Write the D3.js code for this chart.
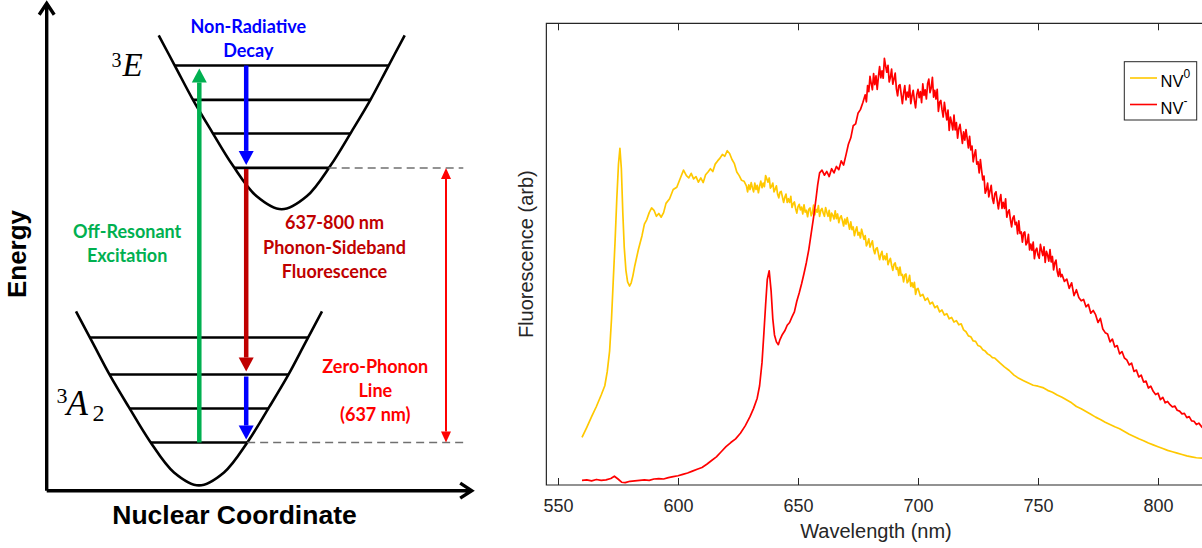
<!DOCTYPE html>
<html><head><meta charset="utf-8">
<script src="https://cdn.jsdelivr.net/npm/d3@7"></script>
<style>body{margin:0;background:#fff;} svg{display:block;}</style>
</head><body><svg id="chart" width="1202" height="548"></svg>
<script>
// ================= DATA: emission spectra ([wavelength nm, fluorescence arb]) =================
const wavelengthTicks = [550, 600, 650, 700, 750, 800];
const nv0Spectrum = [
[560,10.3],[562,12.5],[564,14.8],[566,17],[568,19.5],[569.5,21.5],[570.5,24.5],[571.5,29],[572.3,36],[573,44],[573.8,53],[574.5,62],[575.2,69.5],[575.8,72.9],[576.4,68.5],[577,59],[577.6,51.5],[578.3,46.5],[579,44],[579.8,43.1],[580.5,43.8],[581.2,45.3],[582,47.5],[583.5,51],[585,54],[586,56.5],[587,57.5],[588,59],[589,60],[590,59.5],[591,58.2],[592,58.8],[593,58],[594,59],[595,61],[596.5,62],[598,64],[599.5,64.5],[601,66.5],[602.3,68.2],[603.5,67],[604.5,66.5],[605.5,67.5],[606.5,66.3],[607.5,66.8],[608.5,65.6],[609.5,66.5],[610.5,65.5],[611.5,67.2],[612.5,67.8],[613.5,68.5],[614.5,67.9],[615.5,69.5],[616.5,70.2],[617.5,70.8],[618.5,71.6],[619.5,71.2],[620.5,72.4],[621.5,71.8],[622.5,70.5],[623.5,69.6],[624.5,67.8],[625.5,67],[626.5,66],[627.5,65.8],
[628.5,64.8],[629,63.5],[629.5,65.0],[630,64.0],[630.5,65.5],[631,64.4],[631.5,63.5],[632,65.4],[632.5,64.0],[633,64.9],[633.5,63.3],[634,64.7],[634.5,65.8],[635,64.4],[635.5,65.4],[636,64.6],[636.5,67.0],[637,66.3],[637.5,65.6],[638,66.5],[638.5,64.3],[639,64.7],[639.5,65.4],[640,63.5],[640.5,64.1],[641,64.8],[641.5,63.0],[642,62.2],[642.5,63.4],[643,63.6],[643.5,62.4],[644,61.2],[644.5,62.3],[645,63.0],[645.5,61.2],[646,62.0],[646.5,61.2],[647,62.5],[647.5,60.1],[648,60.9],
[648.5,61.3],[649,59.9],[649.5,58.9],[650,60.3],[650.5,60.8],[651,59.6],[651.5,60.2],[652,58.7],[652.5,60.7],[653,59.1],[653.5,59.5],[654,58.1],[654.5,59.7],[655,60.0],[655.5,58.3],[656,59.0],[656.5,60.6],[657,58.5],[657.5,59.7],[658,59.1],[658.5,60.5],[659,58.2],[659.5,59.5],[660,59.9],[660.5,58.9],[661,58.2],[661.5,60.1],[662,59.1],[662.5,58.2],[663,59.5],[663.5,57.2],[664,58.9],[664.5,58.4],[665,57.6],[665.5,59.4],[666,57.7],[666.5,58.7],[667,56.8],[667.5,57.9],[668,58.3],
[668.5,57.3],[669,56.1],[669.5,57.6],[670,56.5],[670.5,57.9],[671,56.6],[671.5,55.4],[672,57.0],[672.5,55.3],[673,55.9],[673.5,54.0],[674,55.1],[674.5,55.9],[675,54.1],[675.5,54.7],[676,53.5],[676.5,55.4],[677,54.3],[677.5,53.2],[678,54.0],[678.5,51.8],[679,52.4],[679.5,53.3],[680,51.5],[680.5,52.2],[681,52.9],[681.5,51.0],[682,50.1],[682.5,51.2],[683,51.4],[683.5,50.1],[684,48.8],[684.5,49.9],[685,50.6],[685.5,48.8],[686,49.6],[686.5,48.8],[687,50.1],[687.5,47.7],[688,48.5],
[688.5,49.1],[689,47.6],[689.5,46.5],[690,47.8],[690.5,48.1],[691,46.7],[691.5,47.1],[692,45.4],[692.5,47.2],[693,45.4],[693.5,45.6],[694,44.0],[694.5,45.5],[695,45.7],[695.5,43.8],[696,44.2],[696.5,45.4],[697,43.0],[697.5,43.8],[698,42.8],[698.5,43.9],[699,41.3],[699.5,42.4],[700,42.6],
[701,40.9],[702,41.3],[703,40.0],[704,40.5],[705,39.2],[706,39.6],[707,38.4],[708,38.8],[709,37.5],[710,37.9],[711,36.8],[712,37.1],[713,36.0],[714,36.3],[715,35.3],[716,35.6],[717,34.7],[718,34.9],[719,33.6],[720,33.2],[721,32.3],[722,32.1],[723,31.2],[724,31.1],[725,30.2],[726,30.0],[727,29.3],[728,29.0],[729,28.4],[730,28.1],[731,27.6],[732,27.5],
[734,26.5],[736,25.6],[738,24.8],[740,23.8],[742,23.1],[744,22.6],[746,22.1],[748,21.6],[750,21.4],[752,21.1],[754,20.5],[756,20.1],[758,19.5],[760,19],[762,18.4],[764,17.8],[766,17],[768,16.5],[770,15.9],[772,15.3],[774,14.7],[776,14.2],[778,13.6],[780,13.1],[782,12.6],[784,12.2],[786,11.6],[788,11],[790,10.5],[792,10],[794,9.6],[796,9.1],[798,8.7],[800,8.3],[802,7.9],[804,7.5],[806,7.2],[808,6.9],[810,6.6],[812,6.3],[814,6.1],[816,5.9],[818.5,5.8]
];
const nvmSpectrum = [
[560,1.0],[562,1.1],[564,0.9],[566,1.2],[568,1.0],[570,1.1],[572,1.4],[573.5,1.9],[575,1.3],[576.5,0.6],[578,0.5],[580,0.8],[582,0.9],[584,1.0],[586,1.1],[588,1.0],[590,1.3],[592,1.4],[594,1.3],[596,1.6],[598,1.8],[600,2.0],[602,2.3],[604,2.6],[606,3.0],[608,3.4],[610,3.8],[612,4.5],[614,5.3],[616,6.1],[618,7.2],[620,8.3],[622,9.2],[624,10.0],[626,11.2],[628,12.8],[630,14.8],[631.5,16.6],[633,18.8],[634,21.5],[635,26.5],[635.8,33],[636.5,39],[637.2,44.5],[638,46.4],[638.8,42],[639.5,36],[640.2,32.5],[641,31],[641.8,30.4],[642.5,31.5],[643.5,32.6],[644.5,33.4],[645.5,34.6],[646.5,35.2],[647.5,36.4],[648.5,37.5],[649.5,39.8],[650.5,41.6],[651.5,43.6],[652.5,45.8],[653.5,48.2],[654.5,51],[655.5,54.5],[656.5,58],[657.5,62],[658.2,65],[659,67.6],[660,68.2],[661,67.1],[662,67.9],[663,66.8],[664,68.5],[665,67.6],[666,69],[667,68.3],[668,70.2],[669,69.3],[670,71.5],[671,73.8],[672,75.2],[673,77.8],[674,78.2],[675,80.5],[676,81.3],[677,82.8],
[678,84.5],[678.5,83.0],[679,86.5],[679.5,85.2],[680,88.5],[680.5,87.0],[681,85.6],[681.5,89.1],[682,86.7],[682.5,88.6],[683,85.7],[683.5,88.4],[684,90.6],[684.5,88.2],[685,89.7],[685.5,88.1],[686,92.4],[686.5,90.8],[687,89.4],[687.5,90.9],[688,87.3],[688.5,88.3],[689,90.1],[689.5,86.8],[690,88.0],[690.5,89.2],[691,85.8],[691.5,84.3],[692,86.5],[692.5,86.7],[693,84.6],[693.5,82.6],[694,84.9],[694.5,86.5],[695,83.4],[695.5,85.1],[696,84.0],[696.5,86.6],[697,82.6],[697.5,84.3],
[698,85.5],[698.5,83.3],[699,81.7],[699.5,84.6],[700,85.7],[700.5,83.9],[701,85.2],[701.5,82.8],[702,86.9],[702.5,84.4],[703,85.6],[703.5,83.6],[704,86.9],[704.5,87.9],[705,85.0],[705.5,86.0],[706,88.3],[706.5,84.0],[707,85.5],[707.5,83.6],[708,85.7],[708.5,80.9],[709,82.9],[709.5,83.3],[710,81.3],[710.5,79.7],[711,82.9],[711.5,80.9],[712,79.1],[712.5,81.2],[713,76.8],[713.5,79.7],[714,78.5],[714.5,76.9],[715,80.1],[715.5,76.9],[716,78.5],[716.5,75.1],[717,77.2],[717.5,78.1],
[718,76.1],[718.5,74.0],[719,76.5],[719.5,74.7],[720,77.0],[720.5,75.0],[721,73.0],[721.5,75.5],[722,72.6],[722.5,73.4],[723,70.0],[723.5,71.5],[724,72.6],[724.5,69.5],[725,70.0],[725.5,67.6],[726,70.5],[726.5,68.2],[727,66.1],[727.5,66.9],[728,63.2],[728.5,63.9],[729,65.4],[729.5,62.4],[730,63.7],[730.5,64.9],[731,62.1],[731.5,61.0],[732,63.1],[732.5,63.5],[733,61.6],[733.5,59.8],[734,61.7],[734.5,62.9],[735,59.9],[735.5,61.2],[736,59.9],[736.5,62.0],[737,58.0],[737.5,59.1],
[738,59.6],[738.5,57.5],[739,55.9],[739.5,57.8],[740,58.3],[740.5,56.4],[741,56.9],[741.5,54.4],[742,57.2],[742.5,54.5],[743,54.8],[743.5,52.6],[744,54.6],[744.5,54.8],[745,52.0],[745.5,52.5],[746,54.3],[746.5,50.9],[747,52.2],[747.5,50.8],[748,52.6],[748.5,49.0],[749,50.8],[749.5,51.3],[750,49.8],[750.5,49.1],[751,52.1],[751.5,50.8],[752,49.7],[752.5,51.6],[753,48.2],[753.5,50.6],[754,49.8],[754.5,48.5],[755,51.0],[755.5,48.3],[756,49.5],[756.5,46.6],[757,48.1],[757.5,48.7],[758,46.3],[758.5,45.2],[759,46.8],[759.5,45.1],[760,45.6],
[761,44.1],[762,44.6],[763,42.6],[764,43.8],[765,41.0],[766,42.3],[767,40.6],[768,39.9],[769,40.2],[770,38.6],[771,39.1],[772,37.2],[773,37.8],[774,36.9],[775,35.2],[776,36.1],[777,33.8],[778,33.0],[779,32.7],[780,31.0],[781,31.6],[782,29.9],[783,30.2],[784,28.4],[785,28.9],[786,27.5],[787,27.1],[788,26.0],[789,26.4],[790,24.6],[791,24.9],[792,23.4],[793,23.8],[794,22.3],[795,22.5],[796,21.0],[797,21.4],[798,20.3],[799,19.6],[800,19.9],[801,18.5],[802,19.0],[803,17.8],[804,18.1],[805,17.4],[806,16.9],[807,17.1],[808,16.2],[809,16.0],[810,15.4],[811,15.5],[812,14.6],[813,14.8],[814,13.9],[815,13.8],[816,13.1],[817,13.4],[818.5,12.4]
];
const seriesNames = ["NV", "NV"];
const seriesSup = ["0", "-"];
const seriesColors = ["#FFC800", "#FF0000"];

// ================= DATA: energy-level diagram =================
const wellOffset = [-123,-106,-89,-70,-49,-25,0,25,49,70,89,106,123];
const wellRise   = [174,142,110,78,44,13,0,13,44,78,110,142,174];
const wellCenter = [235, 152.3];   // 3E, 3A2 minima (nuclear coordinate)
const wellBottom = [281.4, 5.3];   // 3E, 3A2 minima (energy)
const levelsE  = [425.2, 390.8, 357.2, 322.8];
const levelsA2 = [153.2, 116.2, 82.2, 48.2];

const svg = d3.select("#chart");
svg.append("rect").attr("width",1202).attr("height",548).attr("fill","#fff");

// ================= LEFT: diagram =================
const xD = d3.scaleLinear().domain([0, 425]).range([46.7, 471.7]);
const yD = d3.scaleLinear().domain([0, 487.4]).range([490.7, 3.3]);
const gD = svg.append("g");

const rightRise = wellRise.slice(6), rightOff = wellOffset.slice(6);
const halfWidth = d3.scaleLinear().domain(rightRise).range(rightOff);

const wellLine = d3.line().curve(d3.curveCatmullRom.alpha(0.5));
[0,1].forEach(i => {
  const pts = wellOffset.map((o,k) => [xD(wellCenter[i]+o), yD(wellBottom[i]+wellRise[k])]);
  gD.append("path").attr("d", wellLine(pts)).attr("fill","none")
    .attr("stroke","#000").attr("stroke-width",2.6);
  const lv = i===0 ? levelsE : levelsA2;
  lv.forEach(e => {
    const hw = halfWidth(e - wellBottom[i]);
    gD.append("line").attr("x1", xD(wellCenter[i]-hw)).attr("x2", xD(wellCenter[i]+hw))
      .attr("y1", yD(e)).attr("y2", yD(e)).attr("stroke","#000").attr("stroke-width",2.6);
  });
});

const guideEnd = 416.6;
[[0, levelsE[3]], [1, levelsA2[3]]].forEach(([i,e]) => {
  const hw = halfWidth(e - wellBottom[i]);
  gD.append("line").attr("x1", xD(wellCenter[i]+hw)).attr("x2", xD(guideEnd))
    .attr("y1", yD(e)).attr("y2", yD(e)).attr("stroke","#707070")
    .attr("stroke-width",1.5).attr("stroke-dasharray","8,5");
});

gD.append("path").attr("d", `M${xD(0)},${yD(0)}V${yD(487.4)}M${xD(0)-7.5},${yD(487.4)+11.5}L${xD(0)},${yD(487.4)}L${xD(0)+7.5},${yD(487.4)+11.5}`)
  .attr("fill","none").attr("stroke","#000").attr("stroke-width",3.4);
gD.append("path").attr("d", `M${xD(0)},${yD(0)}H${xD(425)}M${xD(425)-11.5},${yD(0)-7.5}L${xD(425)},${yD(0)}L${xD(425)-11.5},${yD(0)+7.5}`)
  .attr("fill","none").attr("stroke","#000").attr("stroke-width",3.4);

function arrow(q, eFrom, eTo, color, w, hl, hwid, gapTip, gapStart, both) {
  const x = xD(q);
  const dir = eTo > eFrom ? -1 : 1;
  const y0 = yD(eFrom) + dir*gapStart, y1 = yD(eTo) - dir*gapTip;
  const yb = y1 - dir*hl;
  const ys = both ? y0 + dir*hl : y0;
  gD.append("line").attr("x1",x).attr("x2",x).attr("y1",ys).attr("y2",yb)
    .attr("stroke",color).attr("stroke-width",w);
  gD.append("path").attr("d",`M${x-hwid/2},${yb}L${x},${y1}L${x+hwid/2},${yb}Z`).attr("fill",color);
  if (both) gD.append("path").attr("d",`M${x-hwid/2},${ys}L${x},${y0}L${x+hwid/2},${ys}Z`).attr("fill",color);
}
arrow(152.6, levelsA2[3], levelsE[0], "#00B050", 4.5, 14, 15, 3, 0, false);
arrow(199.5, levelsE[0], levelsE[3], "#0000FF", 4.5, 14, 15, 3, 0, false);
arrow(199.5, levelsE[3], levelsA2[1], "#C00000", 4.5, 14, 15, 3, 1, false);
arrow(199.5, levelsA2[1], levelsA2[3], "#0000FF", 4.5, 14, 15, 3, 2, false);
arrow(399.3, levelsA2[3], levelsE[3], "#FF0000", 2, 11, 10, 0, 0, true);

const lbl = (x, y, t, color, size, weight, family) => gD.append("text").attr("x",x).attr("y",y)
  .attr("text-anchor","middle").attr("fill",color).attr("font-size",size)
  .attr("font-weight",weight).attr("font-family",family).text(t);
const cf = "Lato, 'Open Sans', sans-serif";
lbl(248.3, 33, "Non-Radiative", "#0000FF", 18, 700, cf);
lbl(248.3, 57, "Decay", "#0000FF", 18, 700, cf);
lbl(127.2, 238, "Off-Resonant", "#00B050", 18, 700, cf);
lbl(127.2, 262, "Excitation", "#00B050", 18, 700, cf);
lbl(334.5, 229, "637-800 nm", "#C00000", 18, 700, cf);
lbl(334.5, 253.5, "Phonon-Sideband", "#C00000", 18, 700, cf);
lbl(334.5, 278, "Fluorescence", "#C00000", 18, 700, cf);
lbl(375.3, 373, "Zero-Phonon", "#FF0000", 18, 700, cf);
lbl(375.3, 397, "Line", "#FF0000", 18, 700, cf);
lbl(375.3, 420.5, "(637 nm)", "#FF0000", 18, 700, cf);
lbl(234.5, 524, "Nuclear Coordinate", "#000", 26.5, 700, "'Liberation Sans', Arial, sans-serif");
gD.append("text").attr("transform","translate(25.5,254) rotate(-90)").attr("text-anchor","middle")
  .attr("font-size",26).attr("font-weight",700).attr("font-family","'Liberation Sans', Arial, sans-serif").text("Energy");

const sf = "'Liberation Serif', 'Times New Roman', serif";
gD.append("text").attr("x",111.5).attr("y",66.6).attr("font-size",20).attr("font-family",sf).text("3");
gD.append("text").attr("x",122.5).attr("y",76.4).attr("font-size",33).attr("font-style","italic").attr("font-family",sf).text("E");
gD.append("text").attr("x",56.5).attr("y",403).attr("font-size",22).attr("font-family",sf).text("3");
gD.append("text").attr("x",66.5).attr("y",415.4).attr("font-size",35).attr("font-style","italic").attr("font-family",sf).text("A");
gD.append("text").attr("x",92.5).attr("y",420.6).attr("font-size",24).attr("font-family",sf).text("2");

// ================= RIGHT: spectrum plot =================
const xS = d3.scaleLinear().domain([550, 800]).range([558, 1158]);
const yS = d3.scaleLinear().domain([0, 100]).range([485, 23.3]);
const pLeft = xS(545.15), pRight = xS(840), pTop = yS(100), pBottom = yS(0);
const gP = svg.append("g");
const axisColor = "#262626";
const tickFont = "'Liberation Sans', Arial, Helvetica, sans-serif";

svg.append("defs").append("clipPath").attr("id","plotclip").append("rect")
  .attr("x",pLeft).attr("y",pTop).attr("width",pRight-pLeft).attr("height",pBottom-pTop);

const line = d3.line().x(d=>xS(d[0])).y(d=>yS(d[1]));
const gLines = gP.append("g").attr("clip-path","url(#plotclip)");
gLines.append("path").attr("d", line(nv0Spectrum)).attr("fill","none").attr("stroke",seriesColors[0])
  .attr("stroke-width",1.7).attr("stroke-linejoin","round");
gLines.append("path").attr("d", line(nvmSpectrum)).attr("fill","none").attr("stroke",seriesColors[1])
  .attr("stroke-width",1.7).attr("stroke-linejoin","round");

const xAxisB = d3.axisBottom(xS).tickValues(wavelengthTicks).tickSizeInner(-7).tickSizeOuter(0).tickPadding(14);
const gxb = gP.append("g").attr("transform",`translate(0,${pBottom})`).call(xAxisB);
gxb.select(".domain").remove();
gxb.selectAll("line").attr("stroke",axisColor).attr("stroke-width",1);
gxb.selectAll("text").attr("fill",axisColor).attr("font-size",18).attr("font-family",tickFont);
const xAxisT = d3.axisTop(xS).tickValues(wavelengthTicks).tickSizeInner(-7).tickSizeOuter(0).tickFormat("");
const gxt = gP.append("g").attr("transform",`translate(0,${pTop})`).call(xAxisT);
gxt.select(".domain").remove();
gxt.selectAll("line").attr("stroke",axisColor).attr("stroke-width",1);

gP.append("path").attr("d",`M${pRight},${pTop}H${pLeft}V${pBottom}H${pRight}`).attr("fill","none")
  .attr("stroke",axisColor).attr("stroke-width",1.2);

gP.append("text").attr("x",876).attr("y",537.5).attr("text-anchor","middle").attr("fill",axisColor)
  .attr("font-size",20).attr("font-family",tickFont).text("Wavelength (nm)");
gP.append("text").attr("transform",`translate(533,${(pTop+pBottom)/2}) rotate(-90)`).attr("text-anchor","middle")
  .attr("fill",axisColor).attr("font-size",20).attr("font-family",tickFont).text("Fluorescence (arb)");

const lg = gP.append("g");
lg.append("rect").attr("x",1124.3).attr("y",61.7).attr("width",72.4).attr("height",58.3)
  .attr("fill","#fff").attr("stroke",axisColor).attr("stroke-width",1);
seriesNames.forEach((n,i) => {
  const y = 78 + i*26.5;
  lg.append("line").attr("x1",1130).attr("x2",1157).attr("y1",y).attr("y2",y)
    .attr("stroke",seriesColors[i]).attr("stroke-width",1.6);
  const t = lg.append("text").attr("x",1160.5).attr("y",y+9).attr("fill","#000")
    .attr("font-size",16.5).attr("font-family",tickFont);
  t.append("tspan").text(n);
  t.append("tspan").attr("dy",-9).attr("font-size",12).text(seriesSup[i]);
});
</script></body></html>
